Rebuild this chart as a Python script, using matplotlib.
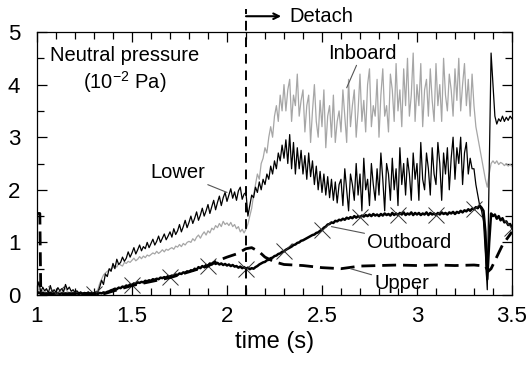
import numpy as np
import matplotlib
matplotlib.use("Agg")
import matplotlib.pyplot as plt
from matplotlib.ticker import MultipleLocator

plt.rcParams['font.family'] = ['Liberation Sans', 'DejaVu Sans']

# sample times (s), one every 10 ms
time = np.linspace(1.0, 3.5, 251)

# neutral pressure (1e-2 Pa)
inboard = [
    0.05, 0.12, 0.06, 0.08, 0.04, 0.1, 0.06, 0.05, 0.09, 0.04,
    0.06, 0.05, 0.08, 0.04, 0.1, 0.13, 0.06, 0.05, 0.04, 0.06,
    0.04, 0.05, 0.03, 0.05, 0.04, 0.03, 0.04, 0.03, 0.05, 0.03,
    0.04, 0.06, 0.1, 0.22, 0.3, 0.38, 0.42, 0.45, 0.48, 0.5,
    0.52, 0.56, 0.53, 0.6, 0.57, 0.55, 0.62, 0.6, 0.64, 0.62,
    0.66, 0.7, 0.65, 0.68, 0.73, 0.69, 0.74, 0.71, 0.76, 0.74,
    0.77, 0.8, 0.78, 0.83, 0.79, 0.82, 0.86, 0.82, 0.87, 0.85,
    0.88, 0.9, 0.87, 0.93, 0.91, 0.96, 0.92, 0.98, 0.95, 1.0,
    1.02, 1.0, 1.07, 1.03, 1.1, 1.14, 1.08, 1.15, 1.2, 1.14,
    1.22, 1.18, 1.27, 1.24, 1.32, 1.28, 1.36, 1.3, 1.4, 1.34,
    1.37, 1.32, 1.38, 1.3, 1.34, 1.26, 1.3, 1.2, 1.25, 1.18,
    1.25, 1.35, 1.5, 1.65, 1.9, 2.1, 2.3, 2.2, 2.5, 2.6,
    2.8, 2.7, 3.0, 3.2, 3.0, 3.4, 3.6, 3.3, 3.8, 3.5,
    4.0, 3.5, 3.9, 4.1, 3.3, 3.8, 3.6, 4.2, 3.4, 3.7,
    3.9, 3.1, 3.6, 3.8, 2.9, 3.5, 4.0, 3.3, 3.0, 3.7,
    3.2, 3.9, 2.8, 3.4, 3.6, 3.0, 3.8, 2.9, 3.3, 3.5,
    3.1, 3.9, 3.4, 2.9, 4.1, 3.2, 3.6, 3.9, 3.0, 3.5,
    4.2, 3.3, 3.7, 3.1, 4.0, 4.3, 3.2, 3.6, 3.4, 4.1,
    3.0, 3.8, 4.3, 3.4, 3.6, 3.1, 4.2, 3.9, 3.3, 4.4,
    3.5, 3.9, 3.2, 4.3, 3.6, 4.5, 3.4, 3.8, 4.6, 3.3,
    4.0, 3.6, 4.4, 3.2, 3.9, 4.1, 3.4, 4.3, 3.7, 3.3,
    4.4, 3.6, 4.0, 3.3, 4.5, 3.8, 3.5, 4.2, 3.9, 3.4,
    4.3, 3.7, 4.5, 3.5, 4.0, 4.4, 3.6, 4.1, 3.4, 4.2,
    3.6, 3.2, 3.0, 2.8, 2.6, 2.4, 2.2, 2.05, 2.3, 2.5,
    2.55, 2.5, 2.55, 2.48, 2.52, 2.5, 2.46, 2.5, 2.45, 2.48,
    2.45]

lower = [
    0.1, 0.25, 0.05, 0.15, 0.08, 0.12, 0.04, 0.18, 0.06, 0.1,
    0.05, 0.14, 0.08, 0.12, 0.06, 0.2, 0.1, 0.15, 0.07, 0.1,
    0.05, 0.08, 0.04, 0.06, 0.03, 0.05, 0.04, 0.06, 0.03, 0.05,
    0.04, 0.06, 0.05, 0.15, 0.28, 0.2, 0.4, 0.35, 0.5, 0.45,
    0.6, 0.5, 0.68, 0.58, 0.62, 0.72, 0.64, 0.7, 0.82, 0.72,
    0.8, 0.9, 0.78, 0.86, 0.95, 0.84, 0.92, 0.88, 1.0, 0.9,
    0.98, 1.06, 0.95, 1.02, 1.12, 1.0, 1.08, 1.16, 1.05, 1.12,
    1.2, 1.1, 1.26, 1.15, 1.22, 1.34, 1.2, 1.3, 1.42, 1.28,
    1.38, 1.5, 1.36, 1.46, 1.58, 1.42, 1.52, 1.65, 1.5, 1.6,
    1.72, 1.55, 1.68, 1.8, 1.62, 1.76, 1.88, 1.7, 1.85, 1.95,
    1.78, 1.9, 2.02, 1.84, 1.96, 1.8, 1.98, 2.05, 1.82, 1.92,
    1.95, 1.5, 1.7, 1.9, 1.85, 2.05, 1.95, 2.15, 2.0, 2.2,
    2.1, 2.3, 2.2, 2.45, 2.3, 2.55, 2.4, 2.7, 2.55, 2.85,
    2.6, 2.95, 2.5, 3.05, 2.4, 2.9, 2.3, 2.8, 2.4, 2.75,
    2.3, 2.65, 2.2, 2.7, 2.25, 2.55, 2.1, 2.45, 2.0, 2.35,
    1.95, 2.3, 1.9, 2.25, 1.85, 2.2, 1.8, 2.15, 1.75, 2.1,
    2.2, 1.7, 2.4, 2.0, 1.6, 2.3, 2.1, 1.8, 2.5, 1.9,
    2.3, 1.6, 2.6, 2.0, 2.2, 1.7, 2.5, 2.1, 1.8, 2.4,
    1.9, 2.7, 2.2, 1.6, 2.5, 2.3, 1.8, 2.6, 2.0, 2.4,
    1.7, 2.8, 2.1, 2.5, 1.9, 2.6, 2.3, 1.8, 2.7, 2.2,
    2.5, 1.8, 2.9, 2.2, 2.0, 2.7, 2.4, 1.9, 2.8, 2.3,
    2.1, 2.9, 2.5, 1.8, 2.7, 2.3, 2.8, 2.0, 2.6, 3.0,
    2.2, 2.8, 2.5, 3.0, 2.1, 2.7, 2.9, 2.3, 2.6, 2.4,
    2.4, 2.1, 1.9, 1.7, 1.6, 1.4, 0.8, 0.1, 2.3, 4.6,
    4.0, 3.4, 3.25, 3.35, 3.3, 3.4, 3.3, 3.38, 3.32, 3.4,
    3.35]

outboard = [
    0.03, 0.05, 0.02, 0.04, 0.02, 0.03, 0.02, 0.04, 0.02, 0.03,
    0.02, 0.03, 0.02, 0.03, 0.02, 0.03, 0.02, 0.03, 0.02, 0.03,
    0.02, 0.03, 0.02, 0.03, 0.02, 0.03, 0.02, 0.03, 0.02, 0.03,
    0.02, 0.03, 0.02, 0.04, 0.03, 0.05, 0.04, 0.06, 0.07, 0.09,
    0.1, 0.12, 0.11, 0.14, 0.13, 0.16, 0.15, 0.18, 0.17, 0.2,
    0.19, 0.22, 0.21, 0.24, 0.23, 0.25, 0.24, 0.27, 0.26, 0.28,
    0.27, 0.3, 0.29, 0.31, 0.3, 0.33, 0.32, 0.34, 0.33, 0.36,
    0.35, 0.37, 0.36, 0.39, 0.38, 0.41, 0.4, 0.43, 0.42, 0.45,
    0.44, 0.47, 0.46, 0.5, 0.48, 0.53, 0.51, 0.55, 0.53, 0.57,
    0.56, 0.6, 0.58, 0.62, 0.59, 0.61, 0.58, 0.6, 0.57, 0.59,
    0.56, 0.58, 0.55, 0.57, 0.54, 0.55, 0.52, 0.54, 0.51, 0.53,
    0.5, 0.52, 0.49, 0.51, 0.5, 0.53, 0.55, 0.58, 0.6, 0.62,
    0.63, 0.66, 0.67, 0.7, 0.71, 0.74, 0.75, 0.78, 0.79, 0.82,
    0.83, 0.86, 0.88, 0.9, 0.92, 0.95, 0.96, 0.99, 1.0, 1.03,
    1.04, 1.06, 1.08, 1.1, 1.12, 1.14, 1.15, 1.18, 1.19, 1.22,
    1.24, 1.28, 1.3, 1.34, 1.35, 1.38, 1.37, 1.41, 1.4, 1.43,
    1.42, 1.45, 1.43, 1.47, 1.45, 1.48, 1.46, 1.5, 1.47, 1.5,
    1.48, 1.51, 1.49, 1.52, 1.5, 1.53, 1.5, 1.54, 1.51, 1.53,
    1.5, 1.54, 1.51, 1.55, 1.52, 1.54, 1.51, 1.56, 1.52, 1.55,
    1.52, 1.56, 1.53, 1.57, 1.52, 1.55, 1.53, 1.57, 1.52, 1.56,
    1.53, 1.56, 1.52, 1.55, 1.53, 1.57, 1.52, 1.56, 1.53, 1.55,
    1.52, 1.56, 1.53, 1.57, 1.54, 1.56, 1.53, 1.57, 1.55, 1.58,
    1.54, 1.58, 1.56, 1.6, 1.57, 1.61, 1.59, 1.63, 1.6, 1.64,
    1.63, 1.67, 1.65, 1.7, 1.66, 1.6, 1.2, 0.3, 1.0, 1.55,
    1.5, 1.53, 1.45, 1.5, 1.42, 1.46, 1.38, 1.4, 1.33, 1.35,
    1.28]

upper_time = [1.0, 1.015, 1.02, 1.35, 1.5, 1.7, 1.9, 1.95, 2.0, 2.05, 2.1, 2.13,
              2.17, 2.2, 2.25, 2.3, 2.4, 2.5, 2.6, 2.7, 2.8, 2.9, 3.0, 3.1, 3.2,
              3.3, 3.36, 3.375, 3.39, 3.45, 3.5]
upper = [1.55, 1.55, 0.02, 0.02, 0.18, 0.33, 0.55, 0.65, 0.72, 0.78, 0.88, 0.9,
         0.82, 0.72, 0.63, 0.58, 0.56, 0.52, 0.5, 0.55, 0.56, 0.57, 0.56, 0.57,
         0.56, 0.57, 0.55, 0.45, 0.5, 0.95, 1.2]

detach_time = 2.1

fig = plt.figure(figsize=(5.3, 3.65), dpi=100)
ax = fig.add_axes([0.0698, 0.1918, 0.8962, 0.7205])

ax.plot(time, inboard, color='#a6a6a6', lw=0.9)
ax.plot(time, lower, color='black', lw=0.9)
ax.plot(time, outboard, color='black', lw=1.8, marker='x', markevery=(10, 20),
        ms=11, mew=0.7, mec='#333333')
ax.plot(upper_time, upper, color='black', lw=2.0, ls=(0, (5, 2.5)))

# detachment marker
ax.plot([detach_time, detach_time], [0, 5.43], color='black', lw=1.4,
        ls=(0, (5, 3.5)), clip_on=False)
ax.annotate('', xy=(2.285, 5.3), xytext=(detach_time, 5.3),
            arrowprops=dict(arrowstyle='->', lw=1.5, color='black',
                            shrinkA=0, shrinkB=0),
            annotation_clip=False)
ax.text(2.33, 5.3, 'Detach', fontsize=14.5, va='center', ha='left')

ax.text(1.46, 4.55, 'Neutral pressure', fontsize=14.5, ha='center', va='center')
ax.text(1.46, 4.05, r'(10$^{\mathregular{-2}}$ Pa)', fontsize=14.5,
        ha='center', va='center')

lead = dict(arrowstyle='-', color='#555555', lw=0.8, shrinkA=0, shrinkB=0)
ax.annotate('Lower', xy=(2.0, 1.95), xytext=(1.74, 2.33), fontsize=14.5,
            ha='center', va='center', arrowprops=lead)
ax.annotate('Inboard', xy=(2.63, 3.94), xytext=(2.71, 4.6), fontsize=14.5,
            ha='center', va='center', arrowprops=lead)
ax.annotate('Outboard', xy=(2.55, 1.3), xytext=(2.96, 1.0), fontsize=14.5,
            ha='center', va='center', arrowprops=lead)
ax.annotate('Upper', xy=(2.65, 0.5), xytext=(2.92, 0.22), fontsize=14.5,
            ha='center', va='center', arrowprops=lead)

ax.set_xlim(1, 3.5)
ax.set_ylim(0, 5)
ax.xaxis.set_major_locator(MultipleLocator(0.5))
ax.xaxis.set_minor_locator(MultipleLocator(0.1))
ax.yaxis.set_major_locator(MultipleLocator(1))
ax.yaxis.set_minor_locator(MultipleLocator(0.5))
ax.tick_params(which='both', direction='in', top=True, right=True, labelsize=16)
ax.tick_params(which='major', length=7, width=0.9)
ax.tick_params(which='minor', length=5, width=0.9)
ax.tick_params(axis='x', pad=8)
ax.tick_params(axis='y', pad=12)
ax.set_xticks([1, 1.5, 2, 2.5, 3, 3.5])
ax.set_xticklabels(['1', '1.5', '2', '2.5', '3', '3.5'])
ax.set_xlabel('time (s)', fontsize=17, labelpad=3)
for s in ax.spines.values():
    s.set_linewidth(0.9)

fig.savefig('out.png', dpi=100)
